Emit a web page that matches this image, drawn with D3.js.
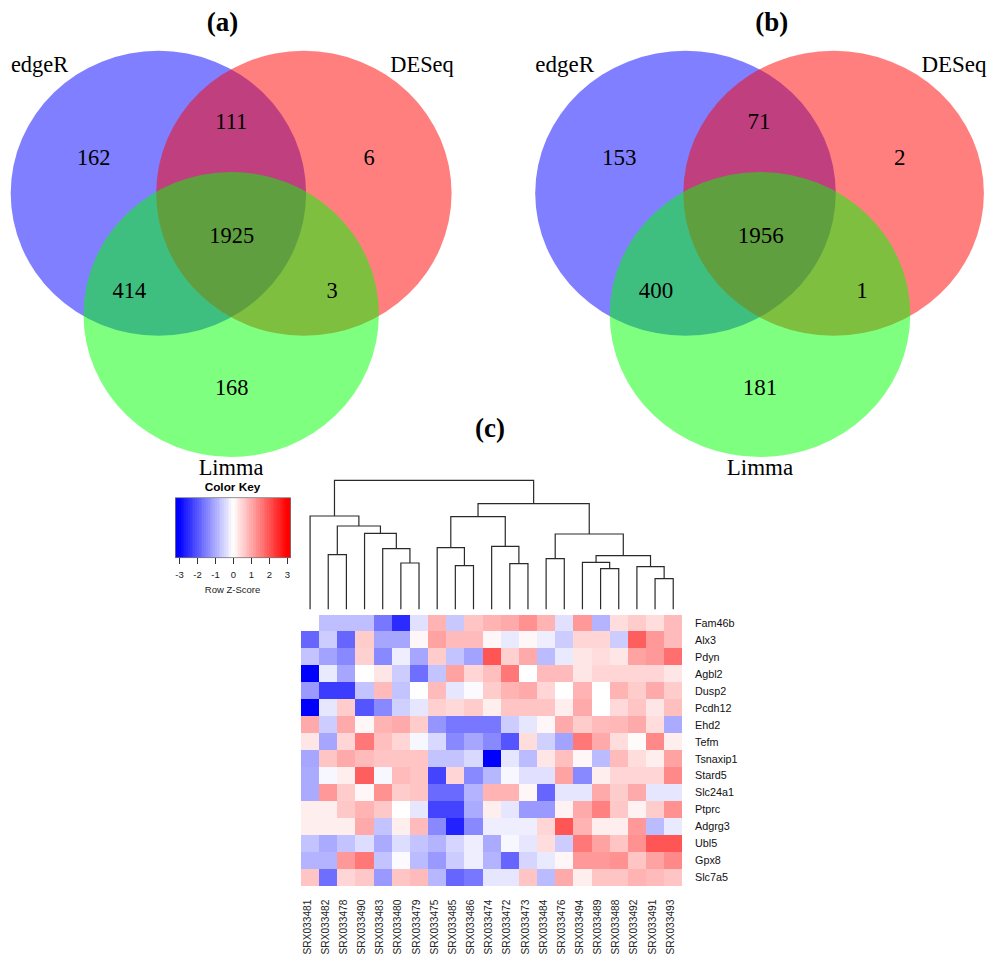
<!DOCTYPE html>
<html><head><meta charset="utf-8">
<script src="https://cdn.jsdelivr.net/npm/d3@7/dist/d3.min.js"></script>
<style>html,body{margin:0;padding:0;background:#fff}svg{display:block}</style>
</head><body><svg id="c" width="1000" height="967"></svg>
<script>
// Venn counts: edgeR only, DESeq only, Limma only, edgeR&DESeq, edgeR&Limma, DESeq&Limma, all
const vennSets = ["edgeR", "DESeq", "Limma"];
const vennA = [162, 6, 168, 111, 414, 3, 1925];
const vennB = [153, 2, 181, 71, 400, 1, 1956];
// Heatmap
const genes = ["Fam46b","Alx3","Pdyn","Agbl2","Dusp2","Pcdh12","Ehd2","Tefm","Tsnaxip1","Stard5","Slc24a1","Ptprc","Adgrg3","Ubl5","Gpx8","Slc7a5"];
const samples = ["SRX033481","SRX033482","SRX033478","SRX033490","SRX033483","SRX033480","SRX033479","SRX033475","SRX033485","SRX033486","SRX033474","SRX033472","SRX033473","SRX033484","SRX033476","SRX033494","SRX033489","SRX033488","SRX033492","SRX033491","SRX033493"];
const zscores = [
[0,-.75,-.75,-.75,-1.6,-2.5,-.35,.9,-.65,.7,.9,1,1.3,.9,-.35,1.2,-.9,.4,.6,.4,.8],
[-1.8,-.6,-1.8,.6,-1.05,-1.05,.1,1.1,.8,.8,.1,-.25,.1,-.2,-.6,.5,.5,-.6,1.9,1.2,.8],
[-.7,-1.1,-1.4,.55,-1.4,-.2,-1.05,.6,-.7,-1.1,2,.55,1,-.8,-.25,.3,.4,.3,1.1,1.2,1.7],
[-3,-.25,-1.05,0,.3,-.6,-1.7,-.7,1.1,.5,.75,1.6,0,.8,.8,.3,.5,.5,.5,.5,.3],
[-1.2,-2.3,-2.3,-.7,.8,-.7,0,.8,-.3,-.05,.6,.9,1,.5,0,.9,0,.9,.6,1,.6],
[-3,-.3,.6,-2,-1.4,-.55,-.3,.55,.45,.6,.2,.7,.7,.7,.2,1,0,.45,.7,.3,.75],
[1,-.6,1,.1,.9,1,.6,-1.25,-1.6,-1.6,-1.6,-.6,-.3,.1,1,.6,.8,.85,1,.4,-1],
[.3,-1.05,.5,1.6,.75,.5,-.1,-.45,-1.4,-1.05,-1.4,-2,.4,-.55,-1.1,1.6,1,.4,.05,1.4,.2],
[-1.05,.7,1,.8,.7,.7,.7,-.7,-.7,-.45,-3,-.3,-.8,.3,.75,.1,-.8,.8,.4,.2,1.1],
[-1,-.1,.2,1.9,-.1,.8,.7,-2.2,.5,-1.4,-.85,-.1,-.35,-.35,1.1,-1.4,.2,.5,.5,.5,1.4],
[-1,1.2,.6,.1,1.3,.6,.7,-1.75,-1.75,-.9,.9,.9,.1,-1.8,-.3,-.3,1,.6,1,-.3,-.3],
[.2,.2,.65,.9,.65,0,-.3,-2.2,-2.2,-1,.2,-.3,-1.2,-1.2,.15,1,1.5,.65,.15,.6,1.3],
[.2,.2,.2,1,-.7,.2,.8,-1.4,-2.6,-1.4,-.2,-.2,-.2,.5,2,.9,.2,.2,1.2,-.8,-.25],
[-.7,-1,-.7,-.4,-1,-.4,-.7,-.9,-.5,-.2,-1,-.1,-.3,.4,-.6,1.6,1.1,.7,1.3,2,2],
[-.9,-.9,1.2,1.6,-.7,-.05,-.8,-1.2,-.6,-.2,-.9,-1.8,-.5,-.25,.1,1.2,1.2,1.3,.7,1.1,1.4],
[.7,-1.7,.5,.65,-1.2,.7,.8,-.85,-1.8,-1.6,-.3,-.3,.7,-.8,1,.2,.7,.7,.9,.8,.7]
];
// Column dendrogram: [left, right, merge height]; numbers are sample indices
const dendro = [[0,[[1,2,54.7],[3,[4,[5,6,46.3],60.7],76],83.3],93.3],
 [[[7,[8,9,43.7],61.7],[10,[11,12,45.7],63],92.7],
  [[13,14,50.7],[[15,[16,17,40.7],47],[18,[19,20,30.7],42.7],53.7],75.3],105.7],129];
const keyTicks = [-3,-2,-1,0,1,2,3];

const F_SERIF = "'Liberation Serif','Times New Roman',serif", F_SANS = "'Liberation Sans',Arial,sans-serif";
const svg = d3.select("#c");

// ---- Venn panels
const fills = ["#0000ff", "#ff0000", "#00ff00"];
function venn(cfg) {
  const g = svg.append("g");
  g.selectAll("ellipse").data(cfg.centers).join("ellipse")
    .attr("cx", d => d[0]).attr("cy", d => d[1]).attr("rx", cfg.rx).attr("ry", 142.5)
    .attr("fill", (d, i) => fills[i]).attr("fill-opacity", .5);
  g.selectAll("text.n").data(cfg.counts).join("text").attr("class","n")
    .attr("x",(d,i)=>cfg.pos[i][0]).attr("y",(d,i)=>cfg.pos[i][1])
    .attr("text-anchor","middle").attr("font-family",F_SERIF).attr("font-size",cfg.fs).attr("fill","#000").text(d=>d);
  g.selectAll("text.s").data(vennSets).join("text").attr("class","s")
    .attr("x",(d,i)=>cfg.lab[i][0]).attr("y",(d,i)=>cfg.lab[i][1])
    .attr("text-anchor","middle").attr("font-family",F_SERIF).attr("font-size",cfg.fs).attr("fill","#000").text(d=>d);
  g.append("text").attr("x",cfg.tx).attr("y",31).attr("text-anchor","middle")
    .attr("font-family",F_SERIF).attr("font-weight","bold").attr("font-size",27).text(cfg.title);
}
venn({counts:vennA, title:"(a)", tx:222.5, rx:147.7, fs:22.4,
  centers:[[158.4,193.3],[303.9,193.3],[231.2,314.5]],
  pos:[[93.7,165],[369,165],[231.7,395],[231.3,129],[129.3,298],[332,298],[231.7,243]],
  lab:[[39.5,72],[422,72],[231,475]]});
venn({counts:vennB, title:"(b)", tx:771.7, rx:150.3, fs:23,
  centers:[[685.5,193.3],[833.6,193.3],[760,314.5]],
  pos:[[619.3,165],[899.7,165],[760,395],[759,129],[656,298],[862,298],[760.7,243]],
  lab:[[564.7,72],[954,72],[760,475]]});
svg.append("text").attr("x",490).attr("y",437).attr("text-anchor","middle")
  .attr("font-family",F_SERIF).attr("font-weight","bold").attr("font-size",27).text("(c)");

// ---- Heatmap
const color = d3.scaleLinear().domain([-3,0,3]).range(["#0000ff","#ffffff","#ff0000"]).clamp(true);
const x = d3.scaleBand().domain(d3.range(samples.length)).range([301,682.3]);
const y = d3.scaleBand().domain(d3.range(genes.length)).range([614.5,886]);
const cells = zscores.flatMap((r,i)=>r.map((v,j)=>({i,j,v})));
svg.append("g").attr("shape-rendering","crispEdges").selectAll("rect").data(cells).join("rect")
  .attr("x",d=>x(d.j)).attr("y",d=>y(d.i)).attr("width",x.bandwidth()).attr("height",y.bandwidth())
  .attr("fill",d=>color(d.v));
svg.append("g").selectAll("text").data(genes).join("text")
  .attr("x",695).attr("y",(d,i)=>y(i)+y.bandwidth()/2).attr("dy","0.35em")
  .attr("font-family",F_SANS).attr("font-size",10.8).attr("fill","#111").text(d=>d);
svg.append("g").selectAll("text").data(samples).join("text")
  .attr("transform",(d,i)=>`translate(${x(i)+x.bandwidth()/2-3},954.5) rotate(-90)`).attr("dy","0.35em")
  .attr("text-anchor","start").attr("font-family",F_SANS).attr("font-size",10.2).attr("fill","#222").text(d=>d);

// ---- Dendrogram
const h = d3.scaleLinear().domain([0,129]).range([609.3,480.3]);
const dg = svg.append("g").attr("fill","none").attr("stroke","#2a2a2a").attr("stroke-width",1.2);
function drawNode(n){
  if (typeof n === "number") return {x:x(n)+x.bandwidth()/2, y:h(0)};
  const a=drawNode(n[0]), b=drawNode(n[1]), yy=h(n[2]);
  dg.append("path").attr("d",`M${a.x},${a.y}V${yy}H${b.x}V${b.y}`);
  return {x:(a.x+b.x)/2,y:yy};
}
drawNode(dendro);

// ---- Color key
const kx = d3.scaleLinear().domain([-3.2,3.2]).range([175.4,290.6]);
const stepSize = 6.4/64;
const steps = d3.range(64).map(i=>-3.2+i*stepSize);
svg.append("g").attr("shape-rendering","crispEdges").selectAll("rect").data(steps).join("rect")
  .attr("x",d=>kx(d)).attr("y",497.7).attr("width",kx(stepSize)-kx(0)+.4).attr("height",60).attr("fill",d=>color(d+stepSize/2));
svg.append("rect").attr("x",175.4).attr("y",497.7).attr("width",115.2).attr("height",60).attr("fill","none").attr("stroke","#777").attr("stroke-width",.8);
const ka = svg.append("g").attr("transform","translate(0,558)").call(d3.axisBottom(kx).tickValues(keyTicks).tickSize(6).tickPadding(7).tickFormat(d=>String(d)));
ka.select(".domain").remove();
ka.selectAll("line").attr("stroke","#333");
ka.selectAll("text").attr("font-family",F_SANS).attr("font-size",9.5).attr("fill","#222");
svg.append("text").attr("x",232.5).attr("y",487).attr("dy","0.35em").attr("text-anchor","middle").attr("font-family",F_SANS).attr("font-weight","bold").attr("font-size",11.8).text("Color Key");
svg.append("text").attr("x",232.5).attr("y",590).attr("dy","0.35em").attr("text-anchor","middle").attr("font-family",F_SANS).attr("font-size",9.5).attr("fill","#222").text("Row Z-Score");
</script></body></html>
